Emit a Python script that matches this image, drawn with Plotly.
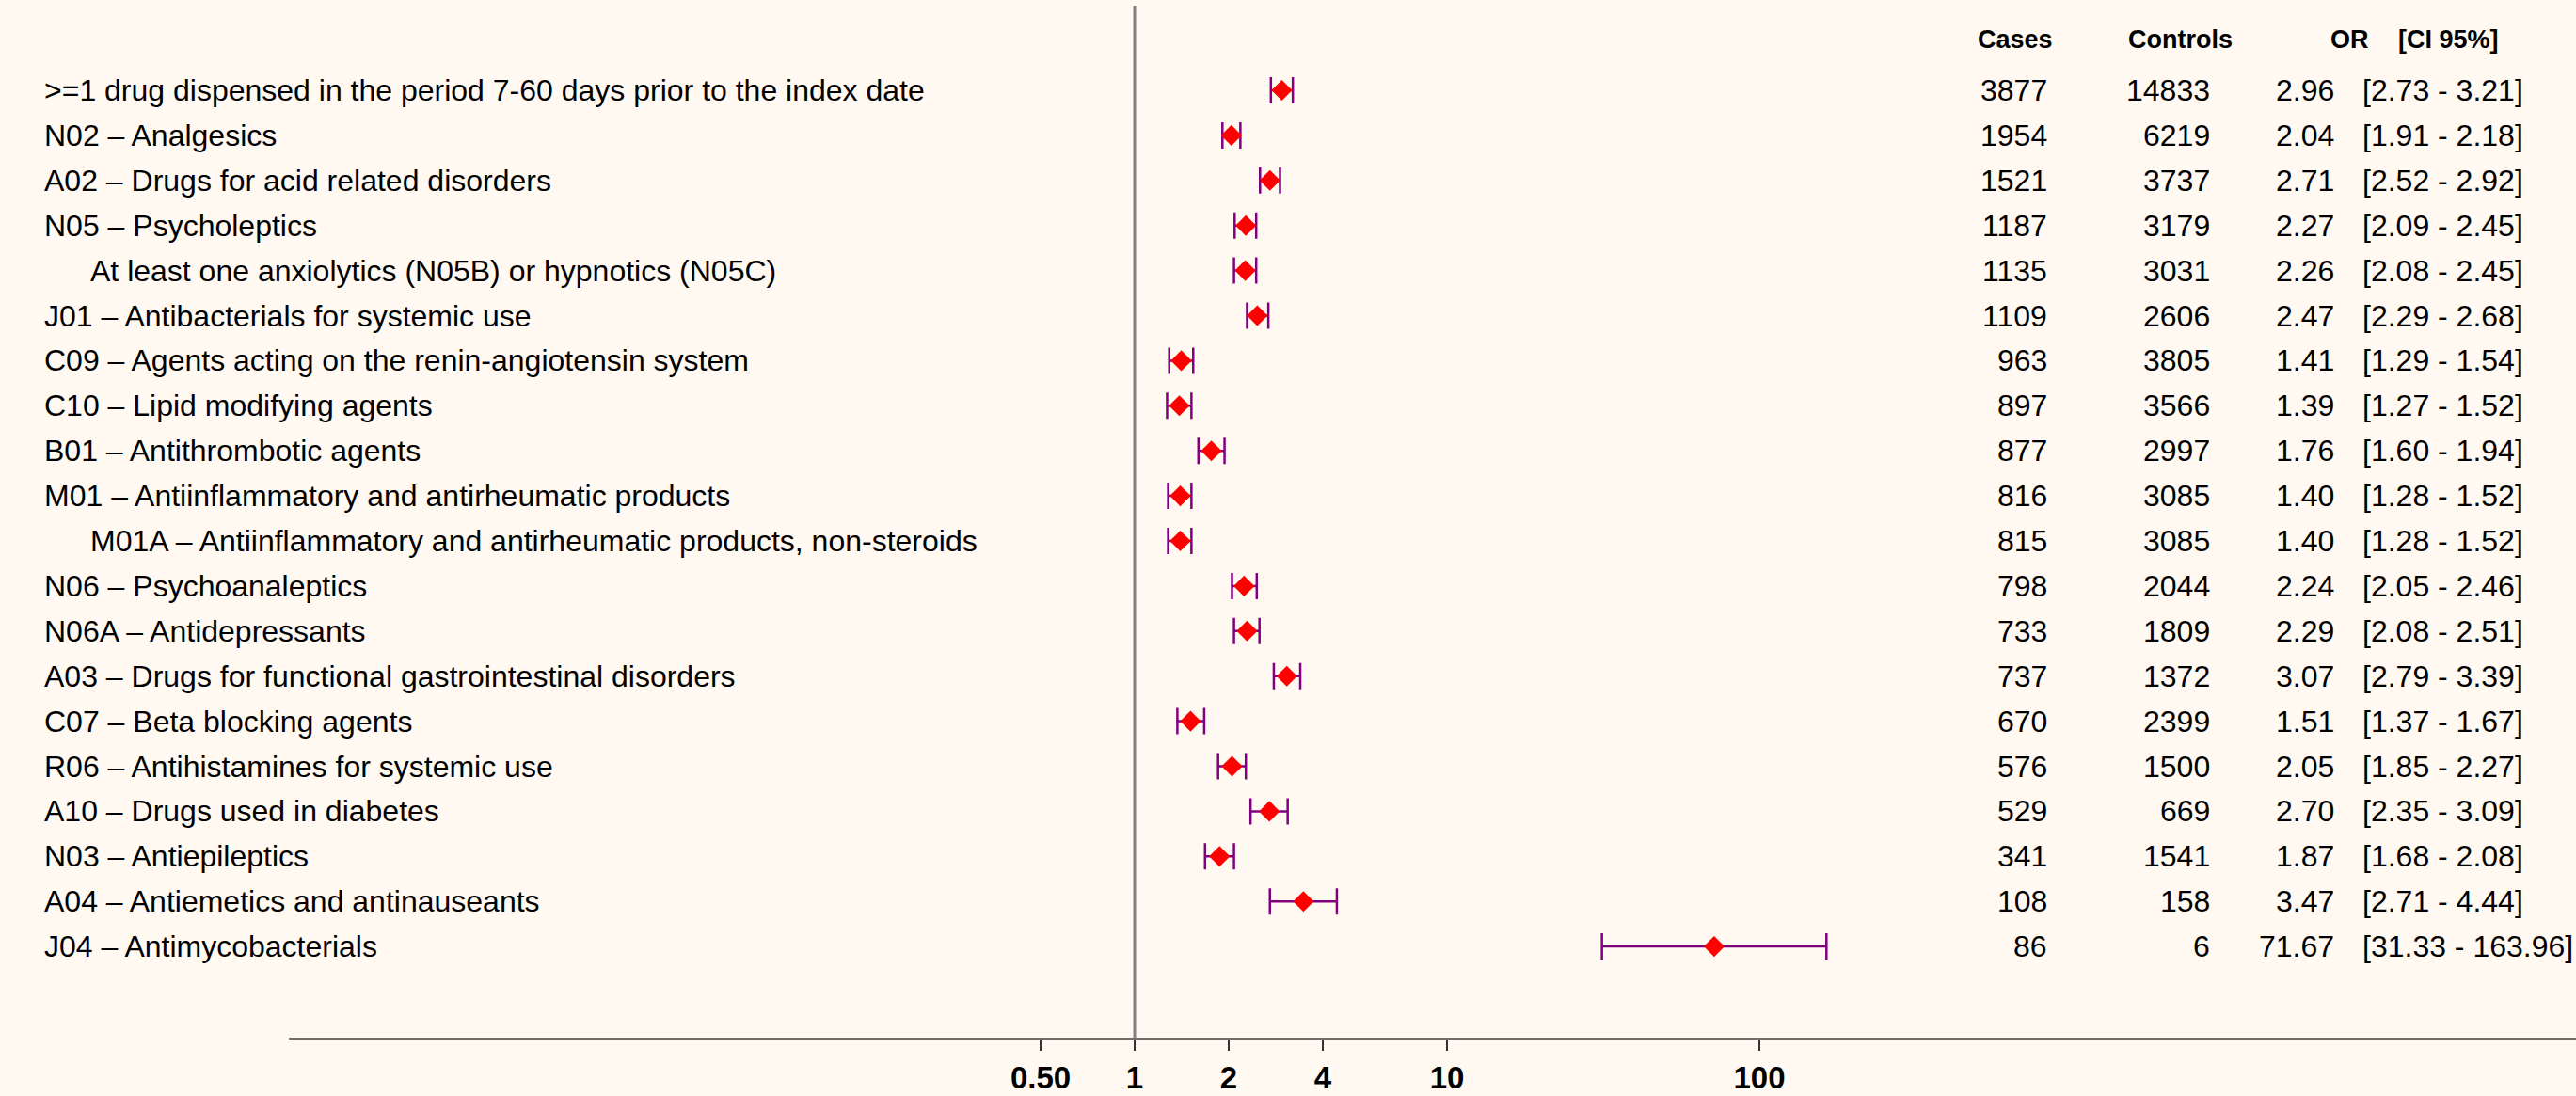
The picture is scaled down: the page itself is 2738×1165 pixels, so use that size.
import plotly.graph_objects as go

labels = [
    ">=1 drug dispensed in the period 7-60 days prior to the index date",
    "N02 – Analgesics",
    "A02 – Drugs for acid related disorders",
    "N05 – Psycholeptics",
    "At least one anxiolytics (N05B) or hypnotics (N05C)",
    "J01 – Antibacterials for systemic use",
    "C09 – Agents acting on the renin-angiotensin system",
    "C10 – Lipid modifying agents",
    "B01 – Antithrombotic agents",
    "M01 – Antiinflammatory and antirheumatic products",
    "M01A – Antiinflammatory and antirheumatic products, non-steroids",
    "N06 – Psychoanaleptics",
    "N06A – Antidepressants",
    "A03 – Drugs for functional gastrointestinal disorders",
    "C07 – Beta blocking agents",
    "R06 – Antihistamines for systemic use",
    "A10 – Drugs used in diabetes",
    "N03 – Antiepileptics",
    "A04 – Antiemetics and antinauseants",
    "J04 – Antimycobacterials",
]
level = [0, 0, 0, 0, 1, 0, 0, 0, 0, 0, 1, 0, 0, 0, 0, 0, 0, 0, 0, 0]
cases = [3877, 1954, 1521, 1187, 1135, 1109, 963, 897, 877, 816, 815, 798, 733, 737, 670, 576, 529, 341, 108, 86]
controls = [14833, 6219, 3737, 3179, 3031, 2606, 3805, 3566, 2997, 3085, 3085, 2044, 1809, 1372, 2399, 1500, 669, 1541, 158, 6]
odds_ratio = [2.96, 2.04, 2.71, 2.27, 2.26, 2.47, 1.41, 1.39, 1.76, 1.40, 1.40, 2.24, 2.29, 3.07, 1.51, 2.05, 2.70, 1.87, 3.47, 71.67]
ci_low = [2.73, 1.91, 2.52, 2.09, 2.08, 2.29, 1.29, 1.27, 1.60, 1.28, 1.28, 2.05, 2.08, 2.79, 1.37, 1.85, 2.35, 1.68, 2.71, 31.33]
ci_high = [3.21, 2.18, 2.92, 2.45, 2.45, 2.68, 1.54, 1.52, 1.94, 1.52, 1.52, 2.46, 2.51, 3.39, 1.67, 2.27, 3.09, 2.08, 4.44, 163.96]
tick_vals = [0.5, 1, 2, 4, 10, 100]
tick_text = ["0.50", "1", "2", "4", "10", "100"]
headers = ["Cases", "Controls", "OR", "[CI 95%]"]

W, H = 2738, 1165
L, R, T, B = 307, 0, 6, 62
PW = W - L - R
BG = "#FFF9F2"
FONT = "Liberation Sans, Arial, sans-serif"
FS = 32

def px(xp):
    return (xp - L) / PW

rows = list(range(len(labels)))
y_top_px, row_step = 96, 47.9
y_lo = (H - B - y_top_px) / row_step
y_hi = (T - y_top_px) / row_step

fig = go.Figure()
fig.add_trace(go.Scatter(
    x=odds_ratio, y=rows, mode="markers",
    marker=dict(symbol="diamond", size=17, color="#FF0000", line=dict(width=0)),
    error_x=dict(type="data", symmetric=False,
                 array=[h - o for h, o in zip(ci_high, odds_ratio)],
                 arrayminus=[o - l for o, l in zip(odds_ratio, ci_low)],
                 color="#800080", thickness=2.5, width=14),
    showlegend=False, hoverinfo="skip",
))

ann = []
def add(x, y, text, anchor, size=FS, weight="normal"):
    ann.append(dict(x=px(x), y=y, xref="paper", yref="y", text=text,
                    xanchor=anchor, yanchor="middle", showarrow=False, borderpad=0,
                    font=dict(size=size, color="black", family=FONT, weight=weight)))

for i in rows:
    add(95 if level[i] else 46, i, labels[i], "left")
    add(2177, i, str(cases[i]), "right")
    add(2350, i, str(controls[i]), "right")
    add(2482, i, f"{odds_ratio[i]:.2f}", "right")
    add(2510, i, f"[{ci_low[i]:.2f} - {ci_high[i]:.2f}]", "left")

hy = (42 - y_top_px) / row_step
for text, xp, anchor in zip(headers, [2142, 2317, 2476, 2548], ["center", "center", "left", "left"]):
    add(xp, hy, text, anchor, size=27, weight="bold")

fig.add_shape(type="line", xref="x", yref="paper", x0=1, x1=1, y0=0, y1=1,
              line=dict(color="#808080", width=3), layer="above")

fig.update_layout(
    width=W, height=H,
    margin=dict(l=L, r=R, t=T, b=B, pad=0),
    paper_bgcolor=BG, plot_bgcolor=BG,
    annotations=ann,
    xaxis=dict(type="log", range=[-899 / 332, 1532 / 332],
               tickvals=tick_vals, ticktext=tick_text,
               showgrid=False, zeroline=False,
               showline=True, linecolor="#6E6E6E", linewidth=2,
               ticks="outside", ticklen=12, tickwidth=2, tickcolor="#333333",
               ticklabelstandoff=0,
               tickfont=dict(size=33, color="black", family=FONT, weight="bold")),
    yaxis=dict(range=[y_lo, y_hi], showgrid=False, zeroline=False,
               showline=False, showticklabels=False, ticks=""),
)

fig.write_html("out.html", config={"displayModeBar": False},
               post_script="document.body.style.margin='0';document.body.style.background='#FFF9F2';document.body.style.overflow='hidden';")
